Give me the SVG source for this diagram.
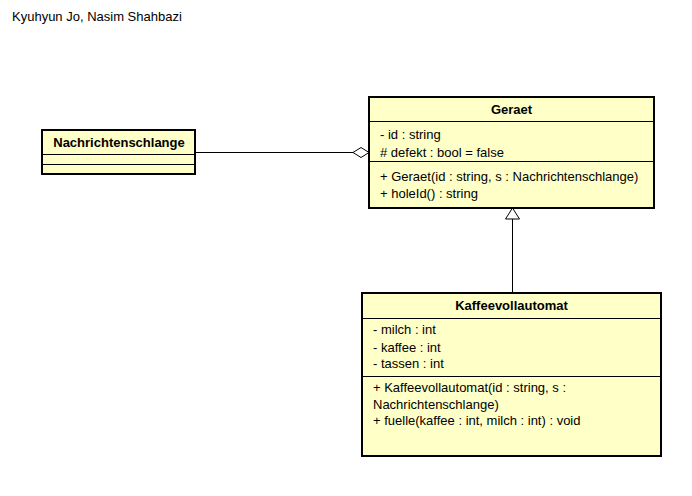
<svg xmlns="http://www.w3.org/2000/svg" width="692" height="496" viewBox="0 0 692 496">
<style>
text{font-family:"Liberation Sans",Arial,sans-serif;font-size:13px;fill:#000}
.t{font-weight:bold;text-anchor:middle}
.box{fill:#ffffc8;stroke:#000;stroke-width:2}
.sep{stroke:#000;stroke-width:1}
.ln{stroke:#000;stroke-width:1;fill:none}
</style>
<rect width="692" height="496" fill="#fff"/>
<text x="12" y="21">Kyuhyun Jo, Nasim Shahbazi</text>
<g id="connectors">
<line class="ln" x1="195" y1="152.5" x2="353" y2="152.5"/>
<polygon points="353,152.5 361,147.5 369,152.5 361,157.5" fill="#fff" stroke="#000"/>
<line class="ln" x1="512.5" y1="219" x2="512.5" y2="293"/>
<polygon points="512.5,208 505.5,219 519.5,219" fill="#fff" stroke="#000"/>
</g>
<g id="Nachrichtenschlange">
<rect class="box" x="42" y="130" width="153" height="44"/>
<line class="sep" x1="42" y1="154.5" x2="195" y2="154.5"/>
<line class="sep" x1="42" y1="164.5" x2="195" y2="164.5"/>
<text class="t" x="119" y="147">Nachrichtenschlange</text>
</g>
<g id="Geraet">
<rect class="box" x="369" y="97" width="285" height="111"/>
<line class="sep" x1="369" y1="121.5" x2="654" y2="121.5"/>
<line class="sep" x1="369" y1="161.5" x2="654" y2="161.5"/>
<text class="t" x="511.5" y="114">Geraet</text>
<text x="380" y="139">- id : string</text>
<text x="380" y="157"># defekt : bool = false</text>
<text x="380" y="181">+ Geraet(id : string, s : Nachrichtenschlange)</text>
<text x="380" y="198">+ holeId() : string</text>
</g>
<g id="Kaffeevollautomat">
<rect class="box" x="362" y="293" width="299" height="163"/>
<line class="sep" x1="362" y1="318.5" x2="661" y2="318.5"/>
<line class="sep" x1="362" y1="376.5" x2="661" y2="376.5"/>
<text class="t" x="511.5" y="310">Kaffeevollautomat</text>
<text x="373" y="334">- milch : int</text>
<text x="373" y="352">- kaffee : int</text>
<text x="373" y="368">- tassen : int</text>
<text x="373" y="392">+ Kaffeevollautomat(id : string, s :</text>
<text x="373" y="409">Nachrichtenschlange)</text>
<text x="373" y="425">+ fuelle(kaffee : int, milch : int) : void</text>
</g>
</svg>
